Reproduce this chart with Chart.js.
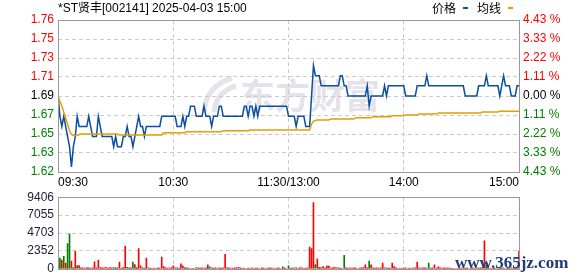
<!DOCTYPE html>
<html>
<head>
<meta charset="utf-8">
<script src="https://cdn.jsdelivr.net/npm/chart.js@4.4.1/dist/chart.umd.min.js"></script>
<style>
  html, body { margin: 0; padding: 0; background: #fff; }
  #wrap { position: relative; width: 578px; height: 276px; overflow: hidden; }
  canvas { position: absolute; left: 0; }
  #priceChart { top: 0; }
  #volChart { top: 186px; }
</style>
</head>
<body>
<div id="wrap">
  <canvas id="priceChart" width="578" height="186"></canvas>
  <canvas id="volChart" width="578" height="94"></canvas>
</div>
<script>
const title = '*ST贤丰[002141] 2025-04-03 15:00';
const legendNames = ['价格', '均线'];
const prevClose = 1.69;
const maxPct = 4.434;

const timeLabels = ['09:30', '10:30', '11:30/13:00', '14:00', '15:00'];
const timeTickIdx = [0, 60, 120, 180, 240];

// top to bottom, as printed
const priceTickLabels = ['1.76', '1.75', '1.73', '1.71', '1.69', '1.67', '1.65', '1.63', '1.62'];
const pctTickLabels = ['4.43 %', '3.33 %', '2.22 %', '1.11 %', '0.00 %', '1.11 %', '2.22 %', '3.33 %', '4.43 %'];
const volTicks = [0, 2352, 4703, 7055, 9406];

// one value per minute, 09:30 .. 11:30 / 13:01 .. 15:00
const prices = [
  1.69,1.67,1.66,1.67,1.66,1.65,1.64,1.62,1.64,1.65,
  1.67,1.66,1.66,1.66,1.66,1.66,1.67,1.66,1.65,1.65,
  1.65,1.67,1.66,1.65,1.65,1.65,1.65,1.65,1.65,1.64,
  1.65,1.64,1.64,1.64,1.65,1.65,1.66,1.65,1.65,1.64,
  1.65,1.66,1.67,1.66,1.66,1.65,1.66,1.66,1.66,1.66,
  1.66,1.66,1.66,1.66,1.67,1.67,1.67,1.67,1.67,1.67,
  1.67,1.67,1.66,1.66,1.66,1.67,1.66,1.67,1.67,1.68,
  1.68,1.68,1.67,1.67,1.67,1.67,1.68,1.67,1.67,1.67,
  1.66,1.67,1.67,1.67,1.68,1.68,1.67,1.67,1.67,1.67,
  1.67,1.67,1.67,1.67,1.67,1.67,1.67,1.68,1.68,1.67,
  1.68,1.68,1.67,1.68,1.67,1.68,1.68,1.68,1.68,1.68,
  1.68,1.68,1.68,1.68,1.68,1.68,1.68,1.68,1.68,1.68,
  1.67,1.67,1.67,1.67,1.66,1.67,1.67,1.67,1.67,1.66,
  1.66,1.66,1.69,1.72,1.71,1.71,1.71,1.70,1.70,1.70,
  1.70,1.70,1.70,1.70,1.70,1.70,1.70,1.71,1.71,1.70,
  1.70,1.69,1.69,1.69,1.69,1.69,1.69,1.69,1.69,1.69,
  1.69,1.70,1.68,1.69,1.69,1.69,1.69,1.69,1.69,1.69,
  1.70,1.69,1.70,1.70,1.70,1.70,1.70,1.70,1.70,1.70,
  1.70,1.69,1.69,1.69,1.69,1.69,1.69,1.70,1.70,1.70,
  1.70,1.70,1.71,1.70,1.70,1.70,1.70,1.70,1.70,1.70,
  1.70,1.70,1.70,1.70,1.70,1.70,1.70,1.70,1.70,1.70,
  1.70,1.70,1.69,1.69,1.69,1.69,1.69,1.69,1.69,1.70,
  1.70,1.70,1.70,1.71,1.70,1.70,1.70,1.70,1.70,1.70,
  1.69,1.70,1.71,1.70,1.70,1.70,1.69,1.69,1.69,1.70,
  1.70
];

const avgPrices = [
  1.690,1.685,1.680,1.674,1.668,1.662,1.656,1.652,1.651,1.651,
  1.651,1.652,1.6525,1.6525,1.6525,1.6525,1.6525,1.6525,1.6525,1.6525,
  1.6525,1.6525,1.6525,1.6525,1.6525,1.6525,1.6525,1.6525,1.6525,1.6525,
  1.6525,1.6525,1.6515,1.6515,1.6515,1.6515,1.6515,1.6515,1.6515,1.6515,
  1.6515,1.6515,1.6515,1.6515,1.6515,1.6515,1.6515,1.6515,1.6515,1.6515,
  1.6515,1.6515,1.6515,1.6515,1.6515,1.6538,1.6538,1.6538,1.6538,1.6538,
  1.6538,1.6538,1.6538,1.6538,1.6538,1.6538,1.6538,1.6548,1.6548,1.6548,
  1.6548,1.6548,1.6548,1.6548,1.6548,1.6548,1.6548,1.6548,1.6548,1.6548,
  1.6548,1.6548,1.6548,1.6548,1.6548,1.6548,1.6558,1.6558,1.6558,1.6558,
  1.6558,1.6558,1.6558,1.6558,1.6558,1.6558,1.6558,1.6558,1.6558,1.6558,
  1.6564,1.6564,1.6564,1.6564,1.6564,1.6564,1.6564,1.6564,1.6564,1.6564,
  1.6564,1.6564,1.6564,1.6564,1.6564,1.6564,1.6564,1.6564,1.6564,1.6564,
  1.6564,1.6564,1.6564,1.6564,1.6564,1.6564,1.6564,1.6564,1.6564,1.6564,
  1.6564,1.6564,1.6624,1.6653,1.6658,1.6663,1.6663,1.6663,1.6663,1.6663,
  1.6663,1.6663,1.6673,1.6673,1.6673,1.6673,1.6673,1.6673,1.6673,1.6673,
  1.6673,1.6673,1.6673,1.6673,1.6673,1.6686,1.6686,1.6686,1.6686,1.6686,
  1.6686,1.6686,1.6686,1.6686,1.6696,1.6696,1.6696,1.6696,1.6696,1.6696,
  1.6696,1.6696,1.6696,1.6696,1.6705,1.6705,1.6705,1.6705,1.6705,1.6705,
  1.6705,1.6712,1.6712,1.6712,1.6712,1.6712,1.6712,1.6712,1.6722,1.6722,
  1.6722,1.6722,1.6722,1.6722,1.6722,1.6722,1.6722,1.6722,1.6732,1.6732,
  1.6732,1.6732,1.6732,1.6732,1.6732,1.6732,1.6732,1.6732,1.6732,1.6732,
  1.6732,1.6732,1.6732,1.6732,1.6732,1.6732,1.6732,1.6732,1.6732,1.6732,
  1.6732,1.6742,1.6742,1.6742,1.6742,1.6742,1.6742,1.6742,1.6742,1.6742,
  1.6749,1.6749,1.6749,1.6749,1.6749,1.6749,1.6749,1.6749,1.6749,1.6749,
  1.6749
];

const volumes = [
  1400,1400,1150,1650,760,3300,4580,1020,170,2290,
  420,420,120,130,110,150,120,100,140,930,
  130,1150,160,140,120,180,100,150,130,160,
  120,140,890,110,150,2970,180,130,120,890,
  550,160,2670,380,130,110,1400,120,100,0,
  110,0,120,100,1530,300,130,110,120,140,
  380,120,140,100,640,380,150,120,110,0,
  0,0,150,120,100,130,110,140,510,250,
  130,110,120,100,140,110,120,1900,130,120,
  110,100,120,130,200,120,0,110,0,100,
  0,120,0,100,110,0,120,100,0,110,
  120,100,110,0,100,120,0,250,130,0,
  380,110,100,120,130,0,150,120,0,110,
  130,2840,2670,8690,550,1270,200,150,300,130,
  380,350,120,140,180,120,130,110,0,1780,
  120,110,130,100,120,140,0,110,130,150,
  510,120,1020,510,130,110,120,100,140,760,
  120,130,110,100,760,300,120,0,110,0,
  100,120,0,110,0,120,130,890,140,110,
  120,130,100,760,110,120,510,100,250,120,
  110,130,100,120,110,0,0,0,0,120,
  110,130,100,120,0,110,120,0,130,110,
  120,150,3690,500,130,110,0,120,0,110,
  130,100,120,0,110,140,120,100,130,110,
  2330
];

// minutes whose volume bar is green (down tick)
const volDownIdx = [0,1,3,5,6,8,10,29,31,36,39,45,62,66,72,79,80,117,120,124,134,149,162,171,181,193,212,223,230,236];

const FONT = "'Liberation Sans', Arial, 'Noto Sans CJK SC', sans-serif";
const GRID = '#cccccc';
const priceMin = prevClose * (1 - maxPct / 100);
const priceMax = prevClose * (1 + maxPct / 100);

function evenTicks(scale, n, lo, hi) {
    const t = [];
    for (let i = 0; i < n; i++) t.push({ value: lo + (hi - lo) * i / (n - 1) });
    scale.ticks = t;
}

function sideColor(i, mid) {
    if (i > mid) return '#ff0000';
    if (i < mid) return '#008000';
    return '#000000';
}

const framePlugin = {
    id: 'frame',
    afterDraw(chart) {
        const { ctx, chartArea: a } = chart;
        ctx.save();
        ctx.strokeStyle = '#999999';
        ctx.lineWidth = 1;
        ctx.strokeRect(Math.round(a.left) + 0.5, Math.round(a.top) + 0.5,
            Math.round(a.right - a.left), Math.round(a.bottom - a.top));
        ctx.restore();
    }
};

const headerPlugin = {
    id: 'header',
    beforeDatasetsDraw(chart) {
        // faint watermark behind the lines
        const ctx = chart.ctx;
        ctx.save();
        ctx.fillStyle = 'rgba(200, 200, 212, 0.5)';
        ctx.font = "bold 35px 'Noto Sans CJK SC', sans-serif";
        ctx.textBaseline = 'middle';
        ctx.fillText('东方财富', 240, 96);
        ctx.strokeStyle = 'rgba(200, 200, 212, 0.5)';
        ctx.lineWidth = 5;
        ctx.beginPath();
        ctx.moveTo(204, 112); ctx.quadraticCurveTo(206, 86, 232, 78);
        ctx.moveTo(214, 112); ctx.quadraticCurveTo(216, 92, 236, 86);
        ctx.stroke();
        ctx.restore();
    },
    afterDraw(chart) {
        const ctx = chart.ctx;
        ctx.save();
        ctx.fillStyle = '#000';
        ctx.font = '12px ' + FONT;
        ctx.textBaseline = 'middle';
        ctx.fillText(title, 58, 9);
        ctx.fillText(legendNames[0], 432, 10);
        ctx.fillText(legendNames[1], 477, 10);
        ctx.fillStyle = '#0a4fa0';
        ctx.fillRect(463, 7, 5, 2);
        ctx.fillStyle = '#e0a000';
        ctx.fillRect(508, 7, 5, 2);
        ctx.restore();
    }
};

const stampPlugin = {
    id: 'stamp',
    afterDraw(chart) {
        const ctx = chart.ctx;
        ctx.save();
        ctx.fillStyle = '#1e3c78';
        ctx.font = "bold 17px 'Liberation Serif', serif";
        ctx.textBaseline = 'alphabetic';
        ctx.fillText('www.365jz.com', 455, 82);
        ctx.restore();
    }
};

const xScale = (showLabels, height) => ({
    type: 'linear',
    min: 0,
    max: 240,
    offset: false,
    afterBuildTicks: (s) => { s.ticks = timeTickIdx.map(v => ({ value: v })); },
    afterFit: (s) => { s.height = height; },
    ticks: {
        display: showLabels,
        autoSkip: false,
        maxRotation: 0,
        align: 'inner',
        padding: 3,
        color: '#000',
        font: { family: FONT, size: 12 },
        callback: (v, i) => timeLabels[i]
    },
    grid: { color: GRID, drawTicks: false, offset: false },
    border: { display: false, dash: [4, 3] }
});

new Chart(document.getElementById('priceChart'), {
    type: 'line',
    data: {
        datasets: [
            {
                label: legendNames[1],
                data: avgPrices.map((v, i) => ({ x: i, y: v })),
                borderColor: '#e0a000',
                borderWidth: 1.5,
                pointRadius: 0,
                tension: 0,
                yAxisID: 'y'
            },
            {
                label: legendNames[0],
                data: prices.map((v, i) => ({ x: i, y: v })),
                borderColor: '#0a4fa0',
                borderWidth: 1.5,
                pointRadius: 0,
                tension: 0,
                yAxisID: 'y'
            }
        ]
    },
    options: {
        responsive: false,
        devicePixelRatio: 1,
        animation: false,
        layout: { padding: { top: 20, left: 0, right: 0, bottom: 0 } },
        plugins: { legend: { display: false }, tooltip: { enabled: false } },
        scales: {
            x: xScale(true, 14),
            y: {
                position: 'left',
                min: priceMin,
                max: priceMax,
                afterBuildTicks: (s) => evenTicks(s, 9, priceMin, priceMax),
                afterFit: (s) => { s.width = 58; },
                ticks: {
                    padding: 4,
                    font: { family: FONT, size: 12 },
                    color: (c) => sideColor(c.index, 4),
                    callback: (v, i) => priceTickLabels[priceTickLabels.length - 1 - i]
                },
                grid: { color: GRID, drawTicks: false },
                border: { display: false, dash: [4, 3] }
            },
            y2: {
                position: 'right',
                min: priceMin,
                max: priceMax,
                afterBuildTicks: (s) => evenTicks(s, 9, priceMin, priceMax),
                afterFit: (s) => { s.width = 59; },
                ticks: {
                    padding: 4,
                    font: { family: FONT, size: 12 },
                    color: (c) => sideColor(c.index, 4),
                    callback: (v, i) => pctTickLabels[pctTickLabels.length - 1 - i]
                },
                grid: { display: false, drawTicks: false },
                border: { display: false }
            }
        }
    },
    plugins: [headerPlugin, framePlugin]
});

const downSet = new Set(volDownIdx);

new Chart(document.getElementById('volChart'), {
    type: 'bar',
    data: {
        datasets: [{
            data: volumes.map((v, i) => ({ x: i, y: v })),
            backgroundColor: volumes.map((v, i) => downSet.has(i) ? '#008000' : '#ff0000'),
            barThickness: 1,
            borderWidth: 0
        }]
    },
    options: {
        responsive: false,
        devicePixelRatio: 1,
        animation: false,
        layout: { padding: { top: 10, left: 0, right: 59, bottom: 0 } },
        plugins: { legend: { display: false }, tooltip: { enabled: false } },
        scales: {
            x: xScale(false, 10),
            y: {
                position: 'left',
                min: 0,
                max: volTicks[volTicks.length - 1],
                afterBuildTicks: (s) => { s.ticks = volTicks.map(v => ({ value: v })); },
                afterFit: (s) => { s.width = 58; },
                ticks: {
                    padding: 4,
                    font: { family: FONT, size: 12 },
                    color: '#1a1a3a',
                    callback: (v) => String(v)
                },
                grid: { color: GRID, drawTicks: false },
                border: { display: false, dash: [4, 3] }
            }
        }
    },
    plugins: [framePlugin, stampPlugin]
});
</script>
</body>
</html>
